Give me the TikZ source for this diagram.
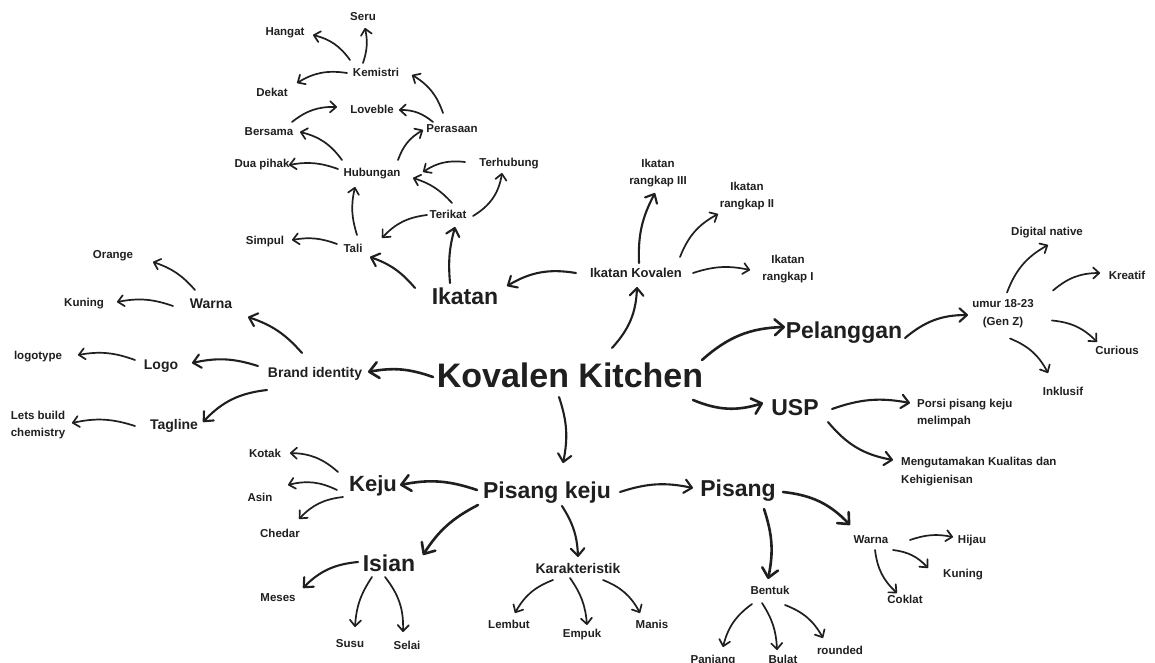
\documentclass[tikz,border=0pt]{standalone}
\usepackage{fontspec}
\setmainfont{Liberation Sans}
\usetikzlibrary{arrows.meta}
\definecolor{ink}{HTML}{1F1F1F}
\begin{document}
\begin{tikzpicture}[x=1pt,y=-1pt,
  lb/.style={inner sep=0pt, text=ink},
  xs/.style={lb, font=\bfseries\fontsize{11.5}{17.5}\selectfont, text height=8.3pt, text depth=0pt},
  xt/.style={lb, font=\bfseries\fontsize{11.5}{17.5}\selectfont, align=center},
  md/.style={lb, font=\bfseries\fontsize{14}{17}\selectfont, text height=10.1pt, text depth=0pt},
  lg/.style={lb, font=\bfseries\fontsize{23}{27}\selectfont, text height=16.5pt, text depth=0pt},
  xl/.style={lb, font=\bfseries\fontsize{34}{40}\selectfont, text height=24.4pt, text depth=0pt},
  a1/.style={draw=ink, line width=1.7pt, line cap=round, -{Straight Barb[length=6pt,width=11pt,round]}},
  a2/.style={draw=ink, line width=2.1pt, line cap=round, -{Straight Barb[length=7.5pt,width=13.5pt,round]}},
  a3/.style={draw=ink, line width=2.6pt, line cap=round, -{Straight Barb[length=9pt,width=16pt,round]}},
]
\useasboundingbox[fill=white] (0,0) rectangle (1155,663);

% ---------- nodes ----------
\node[xl] (KK) at (570,375) {Kovalen Kitchen};
\node[md, font=\bfseries\fontsize{13}{16}\selectfont] (IK) at (636,272) {Ikatan Kovalen};
\node[xt] (R3) at (658,173) {Ikatan\\rangkap III};
\node[xt] (R2) at (747,196) {Ikatan\\rangkap II};
\node[xt] (R1) at (788,269) {Ikatan\\rangkap I};
\node[lg] (Ik) at (465,296) {Ikatan};
\node[xs] (Tali) at (353,248) {Tali};
\node[xs] (Simpul) at (265,240) {Simpul};
\node[xs] (Terikat) at (448,214) {Terikat};
\node[xs] (Terhub) at (509,162) {Terhubung};
\node[xs] (Hub) at (372,172) {Hubungan};
\node[xs] (Dua) at (262,163) {Dua pihak};
\node[xs] (Bersama) at (269,131) {Bersama};
\node[xs] (Perasaan) at (452,128) {Perasaan};
\node[xs] (Loveble) at (372,109) {Loveble};
\node[xs] (Dekat) at (272,92) {Dekat};
\node[xs] (Kem) at (376,72) {Kemistri};
\node[xs] (Hangat) at (285,31) {Hangat};
\node[xs] (Seru) at (363,16) {Seru};

\node[md] (Brand) at (315,372) {Brand identity};
\node[md] (WarnaL) at (211,303) {Warna};
\node[xs] (Orange) at (113,254) {Orange};
\node[xs] (KunL) at (84,302) {Kuning};
\node[md] (Logo) at (161,364) {Logo};
\node[xs] (Logotype) at (38,355) {logotype};
\node[md] (Tagline) at (174,424) {Tagline};
\node[xt] (Lets) at (38,425) {Lets build\\chemistry};

\node[lg] (Pel) at (844,330) {Pelanggan};
\node[xt] (Umur) at (1003,313.5) {umur 18-23\\(Gen Z)};
\node[xs] (Digital) at (1047,231) {Digital native};
\node[xs] (Kreatif) at (1127,275) {Kreatif};
\node[xs] (Curious) at (1117,350) {Curious};
\node[xs] (Inklusif) at (1063,391) {Inklusif};

\node[lg] (USP) at (795,407) {USP};
\node[xt, align=left, anchor=west] (Porsi) at (917,413) {Porsi pisang keju\\melimpah};
\node[xt, align=left, anchor=west] (Meng) at (901,471.5) {Mengutamakan Kualitas dan\\Kehigienisan};

\node[lg] (PK) at (547,490) {Pisang keju};
\node[lg, font=\bfseries\fontsize{22}{26}\selectfont] (Keju) at (373,483) {Keju};
\node[xs] (Kotak) at (265,453) {Kotak};
\node[xs] (Asin) at (260,497) {Asin};
\node[xs] (Chedar) at (280,533) {Chedar};
\node[lg] (Isian) at (389,563) {Isian};
\node[xs] (Meses) at (278,597) {Meses};
\node[xs] (Susu) at (350,643) {Susu};
\node[xs] (Selai) at (407,645) {Selai};
\node[md] (Kar) at (578,568) {Karakteristik};
\node[xs] (Lembut) at (509,624) {Lembut};
\node[xs] (Empuk) at (582,633) {Empuk};
\node[xs] (Manis) at (652,624) {Manis};

\node[lg] (Pisang) at (738,488) {Pisang};
\node[xs] (WarnaR) at (871,539) {Warna};
\node[xs] (Hijau) at (972,539) {Hijau};
\node[xs] (KunR) at (963,573) {Kuning};
\node[xs] (Coklat) at (905,599) {Coklat};
\node[xs] (Bentuk) at (770,590) {Bentuk};
\node[xs] (Panjang) at (713,659) {Panjang};
\node[xs] (Bulat) at (783,659) {Bulat};
\node[xs] (Rounded) at (840,650) {rounded};

% ---------- connectors ----------
% Ikatan cluster
\draw[a1] ([shift={(-13,-9)}]Kem.center) to[bend right=15] ([shift={(2,12)}]Seru.center);
\draw[a1] ([shift={(-26,-12)}]Kem.center) to[bend right=20] ([shift={(28,4)}]Hangat.center);
\draw[a1] ([shift={(-29,1)}]Kem.center) to[bend right=20] ([shift={(25,-9)}]Dekat.center);
\draw[a1] ([shift={(-9,-15)}]Perasaan.center) to[bend right=20] ([shift={(36,3)}]Kem.center);
\draw[a1] ([shift={(-19,-6)}]Perasaan.center) to[bend right=20] ([shift={(27,1)}]Loveble.center);
\draw[a1] ([shift={(23,-9)}]Bersama.center) to[bend left=20] ([shift={(-35,-2)}]Loveble.center);
\draw[a1] ([shift={(-30,-12)}]Hub.center) to[bend right=20] ([shift={(31,1)}]Bersama.center);
\draw[a1] ([shift={(26,-12)}]Hub.center) to[bend left=20] ([shift={(-29,2)}]Perasaan.center);
\draw[a1] ([shift={(-34,-3)}]Hub.center) to[bend right=15] ([shift={(27,2)}]Dua.center);
\draw[a1] ([shift={(-44,0)}]Terhub.center) to[bend right=20] ([shift={(51,0)}]Hub.center);
\draw[a1] ([shift={(4,-11)}]Terikat.center) to[bend right=15] ([shift={(41,6)}]Hub.center);
\draw[a1] ([shift={(25,2)}]Terikat.center) to[bend right=25] ([shift={(-7,11)}]Terhub.center);
\draw[a1] ([shift={(-21,1)}]Terikat.center) to[bend right=20] ([shift={(29,-10)}]Tali.center);
\draw[a1] ([shift={(4,-13)}]Tali.center) to[bend left=15] ([shift={(-17,15)}]Hub.center);
\draw[a1] ([shift={(-16,-4)}]Tali.center) to[bend right=15] ([shift={(27,0)}]Simpul.center);
\draw[a2] ([shift={(-50,-8)}]Ik.center) to[bend right=15] ([shift={(17,9)}]Tali.center);
\draw[a2] ([shift={(-15,-13)}]Ik.center) to[bend left=10] ([shift={(7,13)}]Terikat.center);
% Ikatan Kovalen
\draw[a2] ([shift={(-60,1)}]IK.center) to[bend right=20] ([shift={(42,-10)}]Ik.center);
\draw[a2] ([shift={(3,-9)}]IK.center) to[bend left=15] ([shift={(-3,20)}]R3.center);
\draw[a1] ([shift={(44,-15)}]IK.center) to[bend left=20] ([shift={(-29,18)}]R2.center);
\draw[a1] ([shift={(57,1)}]IK.center) to[bend left=15] ([shift={(-38,1)}]R1.center);
\draw[a2] ([shift={(42,-27)}]KK.center) to[bend right=20] ([shift={(1,15)}]IK.center);
% Pelanggan
\draw[a3] ([shift={(132,-15)}]KK.center) to[bend left=20] ([shift={(-59,-3)}]Pel.center);
\draw[a2] ([shift={(61,8)}]Pel.center) to[bend left=20] ([shift={(-35,1.5)}]Umur.center);
\draw[a1] ([shift={(4,-21)}]Umur.center) to[bend left=20] ([shift={(1,14)}]Digital.center);
\draw[a1] ([shift={(50,-23)}]Umur.center) to[bend left=20] ([shift={(-27,-2)}]Kreatif.center);
\draw[a1] ([shift={(49,7)}]Umur.center) to[bend left=20] ([shift={(-20,-8)}]Curious.center);
\draw[a1] ([shift={(7,25)}]Umur.center) to[bend left=20] ([shift={(-15,-18)}]Inklusif.center);
% USP
\draw[a3] ([shift={(123,25)}]KK.center) to[bend right=20] ([shift={(-32,-4)}]USP.center);
\draw[a2] ([shift={(37,2)}]USP.center) to[bend left=15] ([shift={(-7,-10)}]Porsi.west);
\draw[a2] ([shift={(33,15)}]USP.center) to[bend right=20] ([shift={(-8,-11.5)}]Meng.west);
% Brand identity
\draw[a3] ([shift={(-137,2)}]KK.center) to[bend right=15] ([shift={(53,0)}]Brand.center);
\draw[a2] ([shift={(-13,-19)}]Brand.center) to[bend right=15] ([shift={(37,14)}]WarnaL.center);
\draw[a2] ([shift={(-57,-6)}]Brand.center) to[bend right=15] ([shift={(31,-1)}]Logo.center);
\draw[a2] ([shift={(-48,18)}]Brand.center) to[bend right=20] ([shift={(29,-2)}]Tagline.center);
\draw[a1] ([shift={(-16,-13)}]WarnaL.center) to[bend right=15] ([shift={(40,8)}]Orange.center);
\draw[a1] ([shift={(-38,3)}]WarnaL.center) to[bend right=15] ([shift={(33,0)}]KunL.center);
\draw[a1] ([shift={(-26,-4)}]Logo.center) to[bend right=15] ([shift={(40,0)}]Logotype.center);
\draw[a1] ([shift={(-39,2)}]Tagline.center) to[bend right=15] ([shift={(34,-2)}]Lets.center);
% Pisang keju
\draw[a2] ([shift={(-11,22)}]KK.center) to[bend left=15] ([shift={(16,-27)}]PK.center);
\draw[a3] ([shift={(-70,0)}]PK.center) to[bend right=15] ([shift={(27,2)}]Keju.center);
\draw[a3] ([shift={(-69,15)}]PK.center) to[bend right=15] ([shift={(34,-8)}]Isian.center);
\draw[a2] ([shift={(15,16)}]PK.center) to[bend left=15] ([shift={(0,-11)}]Kar.center);
\draw[a2] ([shift={(73,2)}]PK.center) to[bend left=15] ([shift={(-45,0)}]Pisang.center);
\draw[a1] ([shift={(-35,-11)}]Keju.center) to[bend right=20] ([shift={(25,0)}]Kotak.center);
\draw[a1] ([shift={(-36,7)}]Keju.center) to[bend right=20] ([shift={(28,-12)}]Asin.center);
\draw[a1] ([shift={(-30,14)}]Keju.center) to[bend right=20] ([shift={(19,-14)}]Chedar.center);
\draw[a2] ([shift={(-31,-1)}]Isian.center) to[bend right=20] ([shift={(25,-9)}]Meses.center);
\draw[a1] ([shift={(-17,14)}]Isian.center) to[bend right=15] ([shift={(5,-16)}]Susu.center);
\draw[a1] ([shift={(-4,14)}]Isian.center) to[bend left=20] ([shift={(-4,-13)}]Selai.center);
\draw[a1] ([shift={(-25,12)}]Kar.center) to[bend right=20] ([shift={(6,-11)}]Lembut.center);
\draw[a1] ([shift={(-8,10)}]Kar.center) to[bend left=15] ([shift={(5,-8)}]Empuk.center);
\draw[a1] ([shift={(25,12)}]Kar.center) to[bend left=20] ([shift={(-12,-11)}]Manis.center);
% Pisang
\draw[a3] ([shift={(26,21)}]Pisang.center) to[bend left=15] ([shift={(-2,-11)}]Bentuk.center);
\draw[a3] ([shift={(45,4)}]Pisang.center) to[bend left=20] ([shift={(-21,-14)}]WarnaR.center);
\draw[a1] ([shift={(39,1)}]WarnaR.center) to[bend left=15] ([shift={(-19,-2)}]Hijau.center);
\draw[a1] ([shift={(22,11)}]WarnaR.center) to[bend left=20] ([shift={(-35,-5)}]KunR.center);
\draw[a1] ([shift={(4,11)}]WarnaR.center) to[bend right=20] ([shift={(-8,-6)}]Coklat.center);
\draw[a1] ([shift={(-18,14)}]Bentuk.center) to[bend right=20] ([shift={(10,-12)}]Panjang.center);
\draw[a1] ([shift={(-8,13)}]Bentuk.center) to[bend left=15] ([shift={(-6,-9)}]Bulat.center);
\draw[a1] ([shift={(15,15)}]Bentuk.center) to[bend left=20] ([shift={(-17,-12)}]Rounded.center);
\end{tikzpicture}
\end{document}
